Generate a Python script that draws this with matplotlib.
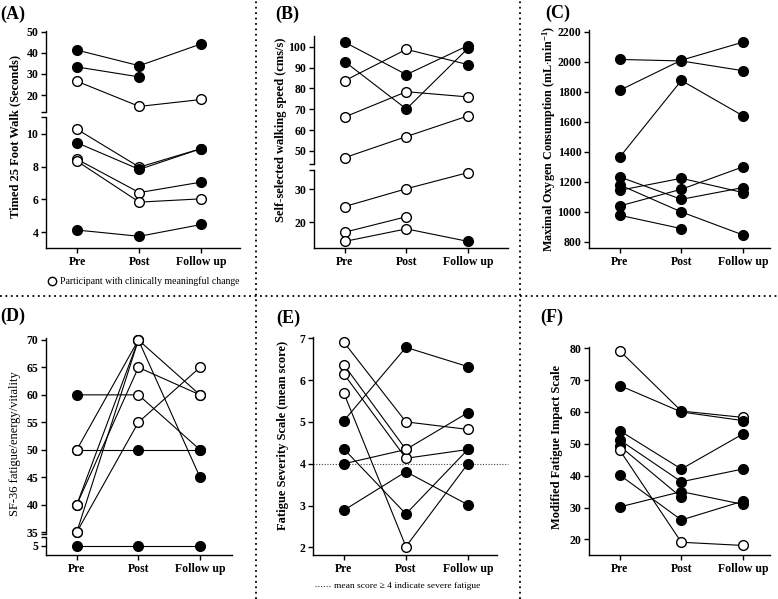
import numpy as np
import matplotlib
matplotlib.use("Agg")
import matplotlib.pyplot as plt
from matplotlib.lines import Line2D

plt.rcParams['font.family'] = ['Liberation Serif', 'DejaVu Serif']
plt.rcParams['font.weight'] = 'bold'
plt.rcParams['mathtext.fontset'] = 'custom'
plt.rcParams['mathtext.rm'] = 'Liberation Serif:bold'
plt.rcParams['mathtext.default'] = 'rm'

nan = np.nan
CATS = ["Pre", "Post", "Follow up"]

# ---- Panel A: Timed 25 Foot Walk (s) ----
A_PRE = [41.3, 33.3, 26.5, 10.27, 9.45, 8.45, 8.33, 4.14]
A_POST = [33.9, 28.6, 14.6, 7.97, 7.83, 6.42, 5.84, 3.76]
A_FU = [44.3, nan, 17.9, 9.1, 9.1, 7.06, 6.04, 4.48]
A_MARK = ['fff', 'ff-', 'ooo', 'oof', 'fff', 'oof', 'ooo', 'fff']

# ---- Panel B: Self-selected walking speed (cm/s) ----
B_PRE = [102.1, 92.8, 83.7, 66.3, 46.8, 24.8, 17.0, 14.2]
B_POST = [86.6, 70.1, 98.7, 78.4, 56.9, 30.2, 21.7, 18.0]
B_FU = [100.5, 99.2, 91.4, 75.9, 66.8, 35.1, nan, 14.2]
B_MARK = ['fff', 'fff', 'oof', 'ooo', 'ooo', 'ooo', 'oo-', 'oof']

# ---- Panel C: Maximal oxygen consumption ----
C_PRE = [2015, 1810, 1365, 1233, 1180, 1144, 1040, 978]
C_POST = [2005, 2010, 1875, 1084, 1000, 1224, 1151, 889]
C_FU = [1940, 2130, 1640, 1162, 847, 1129, 1300, nan]
C_MARK = ['fff', 'fff', 'fff', 'fff', 'fff', 'fff', 'fff', 'ff-']

# ---- Panel D: SF-36 fatigue/energy/vitality ----
D_PRE = [60, 50, 50, 40, 35, 40, 35, 5]
D_POST = [60, 70, 50, 70, 70, 65, 55, 5]
D_FU = [50, 60, 50, 45, nan, 60, 65, 5]
D_MARK = ['fof', 'ooo', 'off', 'oof', 'oo-', 'ooo', 'ooo', 'fff']

# ---- Panel E: Fatigue Severity Scale ----
E_PRE = [6.90, 6.36, 6.14, 5.68, 5.03, 4.35, 4.0, 2.89]
E_POST = [5.0, 4.34, 4.13, 2.02, 6.78, 2.80, 4.34, 3.81]
E_FU = [4.82, 5.22, 4.34, 4.0, 6.32, 4.34, nan, 3.02]
E_MARK = ['ooo', 'oof', 'oof', 'oof', 'fff', 'fff', 'fo-', 'fff']

# ---- Panel F: Modified Fatigue Impact Scale ----
F_PRE = [79.2, 68.3, 54.1, 51.2, 49.3, 48.0, 40.2, 30.2]
F_POST = [60.3, 60.0, 42.1, 38.1, 33.2, 19.1, 26.1, 35.0]
F_FU = [58.3, 57.3, 53.1, 42.1, nan, 18.1, 32.0, 31.0]
F_MARK = ['ofo', 'fff', 'fff', 'fff', 'ff-', 'ooo', 'fff', 'fff']

W, H = 778, 599
fig = plt.figure(figsize=(W / 100, H / 100), dpi=100)


def add_ax(left, right, top, bottom):
    return fig.add_axes([left / W, 1 - bottom / H, (right - left) / W, (bottom - top) / H])


def style(ax, xlim, bottom_axis=True):
    ax.set_xlim(*xlim)
    for s in ['top', 'right']:
        ax.spines[s].set_visible(False)
    ax.spines['left'].set_linewidth(1.0)
    ax.spines['bottom'].set_linewidth(1.0)
    ax.tick_params(axis='y', length=3.5, width=1.0, pad=2, labelsize=8.5)
    ax.patch.set_alpha(0)
    if bottom_axis:
        ax.set_xticks(range(3))
        ax.set_xticklabels(CATS)
        ax.tick_params(axis='x', length=3.5, width=1.0, pad=2, labelsize=8.5)
    else:
        ax.spines['bottom'].set_visible(False)
        ax.set_xticks([])


def draw(ax, pre, post, fu, marks, sel=None):
    for i in range(len(pre)):
        vals = np.array([pre[i], post[i], fu[i]], dtype=float)
        if sel is not None and not sel(vals):
            continue
        x = np.arange(3)
        ok = ~np.isnan(vals)
        ax.plot(x[ok], vals[ok], color='black', lw=0.8, zorder=2, clip_on=False)
        for j in range(3):
            if ok[j]:
                fc = 'white' if marks[i][j] == 'o' else 'black'
                ax.plot(j, vals[j], 'o', ms=7, mfc=fc, mec='black', mew=1.0,
                        zorder=3, clip_on=False)


def broken(left, right, up_px, lo_px, up_lim, lo_lim, up_ticks, lo_ticks, data, thr, xlim):
    axu = add_ax(left, right, up_px[0], up_px[1])
    axl = add_ax(left, right, lo_px[0], lo_px[1])
    style(axu, xlim, bottom_axis=False)
    style(axl, xlim, bottom_axis=True)
    axu.set_ylim(up_lim[0], up_lim[1])
    axl.set_ylim(lo_lim[0], lo_lim[1])
    axu.set_yticks([up_lim[0]] + up_ticks)
    axu.set_yticklabels([''] + [str(t) for t in up_ticks])
    axl.set_yticks(lo_ticks + [lo_lim[1]])
    axl.set_yticklabels([str(t) for t in lo_ticks] + [''])
    draw(axu, *data, sel=lambda v: np.nanmax(v) > thr)
    draw(axl, *data, sel=lambda v: np.nanmax(v) <= thr)
    return axu, axl


# Panel A
broken(46, 240, (30.7, 111.7), (117.3, 248.3), (12.1, 50.5), (3.03, 11.0),
       [20, 30, 40, 50], [4, 6, 8, 10], (A_PRE, A_POST, A_FU, A_MARK), 11.5, (-0.5, 2.62))
# Panel B
broken(314, 508, (36, 164.3), (170, 248.3), (43.6, 105.1), (12.1, 35.9),
       [50, 60, 70, 80, 90, 100], [20, 30], (B_PRE, B_POST, B_FU, B_MARK), 40, (-0.5, 2.65))
# Panel C
axc = add_ax(589, 770, 30, 248.3)
style(axc, (-0.5, 2.44))
axc.set_ylim(758, 2211)
axc.set_yticks(range(800, 2201, 200))
draw(axc, C_PRE, C_POST, C_FU, C_MARK)
# Panel D
broken(46, 232, (338.3, 534.3), (537.3, 555), (34.6, 70.3), (3.36, 6.58),
       [35, 40, 45, 50, 55, 60, 65, 70], [5], (D_PRE, D_POST, D_FU, D_MARK), 20, (-0.5, 2.52))
# Panel E
axe = add_ax(313, 497, 337.3, 555)
style(axe, (-0.5, 2.47))
axe.set_ylim(1.82, 7.02)
axe.set_yticks(range(2, 8))
axe.axhline(4, color='#444444', lw=0.8, ls=(0, (1, 1.5)), zorder=1, xmax=1.06, clip_on=False)
draw(axe, E_PRE, E_POST, E_FU, E_MARK)
# Panel F
axf = add_ax(589, 770, 346.7, 555)
style(axf, (-0.5, 2.44))
axf.set_ylim(15.1, 80.5)
axf.set_yticks(range(20, 81, 10))
draw(axf, F_PRE, F_POST, F_FU, F_MARK)


def ftext(x, y, s, **kw):
    fig.text(x / W, 1 - y / H, s, **kw)


# Y labels
ftext(15, 137, "Timed 25 Foot Walk (Seconds)", rotation=90, ha='center', va='center', fontsize=9)
ftext(281, 130, "Self-selected walking speed (cms/s)", rotation=90, ha='center', va='center', fontsize=9)
ftext(549, 139, r"Maximal Oxygen Consumption (mL$\cdot$min$^{-1}$)", rotation=90, ha='center',
      va='center', fontsize=8.7)
ftext(15, 444, "SF-36 fatigue/energy/vitality", rotation=90, ha='center', va='center',
      fontsize=9, fontweight='normal')
ftext(283, 435, "Fatigue Severity Scale (mean score)", rotation=90, ha='center', va='center', fontsize=9)
ftext(557, 447, "Modified Fatigue Impact Scale", rotation=90, ha='center', va='center', fontsize=9)

# Panel labels
for (x, y, s) in [(0, 14.5, "(A)"), (275, 14.5, "(B)"), (545, 13.5, "(C)"),
                  (0, 316.5, "(D)"), (276, 318.5, "(E)"), (540, 317.5, "(F)")]:
    ftext(x, y, s, ha='left', va='center', fontsize=13, fontweight='bold')

# Legends
fig.add_artist(Line2D([52 / W], [1 - 281 / H], marker='o', ms=6, mfc='white', mec='black',
                      mew=1.0, ls='none'))
ftext(60, 281, "Participant with clinically meaningful change", ha='left', va='center',
      fontsize=7, fontweight='normal')
fig.add_artist(Line2D([315 / W, 331 / W], [1 - 586 / H, 1 - 586 / H], color='#444444', lw=0.8,
                      ls=(0, (1, 1.5))))
ftext(334, 586, "mean score \u2265 4 indicate severe fatigue", ha='left', va='center',
      fontsize=6.8, fontweight='normal')

# Dotted separators
dot = dict(color='black', lw=1.3, ls=(0, (1, 2)))
fig.add_artist(Line2D([256 / W, 256 / W], [0, 1], **dot))
fig.add_artist(Line2D([520 / W, 520 / W], [0, 1], **dot))
fig.add_artist(Line2D([0, 1], [1 - 296 / H, 1 - 296 / H], **dot))

fig.savefig("out.png", dpi=100)
